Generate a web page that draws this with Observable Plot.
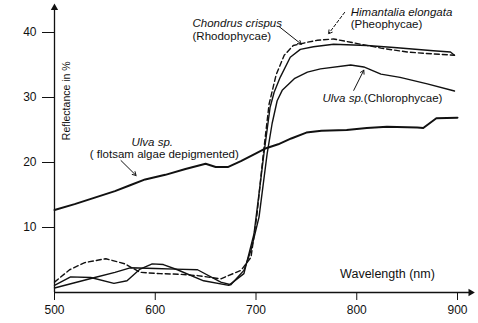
<!DOCTYPE html>
<html><head><meta charset="utf-8">
<script src="https://cdn.jsdelivr.net/npm/d3@7"></script>
<script src="https://cdn.jsdelivr.net/npm/@observablehq/plot@0.6"></script>
<style>body{margin:0;background:#fff}</style>
</head><body><div id="chart"></div>
<script>
const xTicks = [500, 600, 700, 800, 900];
const yTicks = [10, 20, 30, 40];

const flotsamW = [500,520,540,560,575,590,610,630,650,660,672,685,700,710,722,735,750,765,790,810,830,860,866,879,900];
const flotsamR = [12.7,13.6,14.6,15.6,16.5,17.4,18.1,19.0,19.8,19.3,19.3,20.2,21.4,22.2,22.8,23.7,24.6,24.9,25.0,25.3,25.5,25.4,25.3,26.8,26.9];

const chondrusW = [500,516,536,559,572,585,597,608,622,648,673,688,698,703,708,714,718,724,734,744,757,777,810,837,876,893,897];
const chondrusR = [1.1,2.4,2.3,1.4,1.8,3.6,4.4,4.3,3.5,1.8,1.1,2.9,9.0,15.2,21.5,28.5,30.8,33.1,36.2,37.4,37.8,38.2,38.0,37.7,37.2,37.0,36.5];

const ulvaW = [500,520,540,560,575,600,620,642,665,675,688,695,703,711,716,721,726,738,751,764,794,807,824,843,870,897];
const ulvaR = [0.7,1.5,2.3,3.1,3.8,3.7,3.6,3.5,1.6,1.2,3.4,6.5,11.6,21.3,26.0,29.5,31.1,32.9,33.9,34.4,35.0,34.7,33.6,33.1,32.1,31.0];

const himantaliaW = [500,515,530,551,570,585,605,625,642,665,685,695,701,707,713,720,728,737,751,761,777,794,824,850,876,897];
const himantaliaR = [1.6,3.5,4.6,5.2,4.4,3.1,2.9,2.8,2.6,2.1,3.4,5.4,12.0,21.0,29.0,33.5,36.5,38.0,38.5,38.8,39.0,38.5,37.6,37.0,36.7,36.5];

// annotation labels (position in data units: wavelength, reflectance)
const labelText  = ["Chondrus crispus", "(Rhodophycae)", "Himantalia elongata", "(Pheophycae)", "Ulva sp.", "(Chlorophycae)", "Ulva sp.", "( flotsam algae depigmented)"];
const labelW     = [637, 637, 794, 794, 766, 807, 597, 609];
const labelR     = [41.4, 39.4, 43.1, 41.2, 29.8, 29.8, 23.1, 21.2];
const labelItal  = [true, false, true, false, true, false, true, false];
const labelAnchor= ["start","start","start","start","start","start","middle","middle"];

const arrowW1 = [723, 566, 797];
const arrowR1 = [40.9, 20.3, 31.1];
const arrowW2 = [745, 581, 807];
const arrowR2 = [38.2, 18.0, 34.2];
const dashArrowW = [788, 772];
const dashArrowR = [43.1, 39.8];

const toRows = (name, ws, rs) => ws.map((w, i) => ({name, w, r: rs[i]}));
const solid = [
  ...toRows("Chondrus crispus", chondrusW, chondrusR),
  ...toRows("Ulva sp. (Chlorophycae)", ulvaW, ulvaR)
];
const flotsam = toRows("Ulva sp. flotsam", flotsamW, flotsamR);
const dashed = toRows("Himantalia elongata", himantaliaW, himantaliaR);
const labels = labelText.map((t, i) => ({t, w: labelW[i], r: labelR[i], it: labelItal[i], a: labelAnchor[i]}));
const arrows = arrowW1.map((w, i) => ({x1: w, y1: arrowR1[i], x2: arrowW2[i], y2: arrowR2[i]}));
const dashArrow = [{x1: dashArrowW[0], y1: dashArrowR[0], x2: dashArrowW[1], y2: dashArrowR[1]}];

const font = "Arial, 'Liberation Sans', Helvetica, sans-serif";
const ink = "#111";

const chart = Plot.plot({
  width: 478, height: 323,
  marginLeft: 54, marginRight: 21, marginTop: 32, marginBottom: 31,
  x: {domain: [500, 900]},
  y: {domain: [0, 40]},
  style: {fontFamily: font, fontSize: "12px", color: ink, background: "#fff"},
  marks: [
    Plot.axisX({ticks: xTicks, tickSize: 8, tickPadding: 5, label: null, fontSize: 12, stroke: ink}),
    Plot.axisY({ticks: yTicks, tickSize: 12, tickPadding: 6, label: null, fontSize: 12, stroke: ink}),
    Plot.ruleY([0], {x1: 500, x2: 912, stroke: ink, strokeWidth: 1.3}),
    Plot.ruleX([500], {y1: 0, y2: 43.4, stroke: ink, strokeWidth: 1.3}),
    Plot.dot([{x: 913, y: 0}], {x: "x", y: "y", symbol: "triangle2", r: 3.5, fill: ink, rotate: 90}),
    Plot.dot([{x: 500, y: 43.8}], {x: "x", y: "y", symbol: "triangle2", r: 3.5, fill: ink}),
    Plot.line(flotsam, {x: "w", y: "r", stroke: ink, strokeWidth: 2}),
    Plot.line(solid, {x: "w", y: "r", z: "name", stroke: ink, strokeWidth: 1.4}),
    Plot.line(dashed, {x: "w", y: "r", stroke: ink, strokeWidth: 1.4, strokeDasharray: "5,3"}),
    Plot.arrow(arrows, {x1: "x1", y1: "y1", x2: "x2", y2: "y2", stroke: ink, strokeWidth: 1, headLength: 6}),
    Plot.arrow(dashArrow, {x1: "x1", y1: "y1", x2: "x2", y2: "y2", stroke: ink, strokeWidth: 1, headLength: 6, strokeDasharray: "3,2"}),
    Plot.text(labels.filter(d => d.it && d.a === "start"), {x: "w", y: "r", text: "t", textAnchor: "start", fontStyle: "italic", fontSize: 11.5, fill: ink}),
    Plot.text(labels.filter(d => !d.it && d.a === "start"), {x: "w", y: "r", text: "t", textAnchor: "start", fontSize: 11.5, fill: ink}),
    Plot.text(labels.filter(d => d.it && d.a === "middle"), {x: "w", y: "r", text: "t", textAnchor: "middle", fontStyle: "italic", fontSize: 11.5, fill: ink}),
    Plot.text(labels.filter(d => !d.it && d.a === "middle"), {x: "w", y: "r", text: "t", textAnchor: "middle", fontSize: 11.5, fill: ink}),
    Plot.text(["Wavelength (nm)"], {x: 830.5, y: 2.8, text: d => d, fontSize: 12.5, fill: ink}),
    Plot.text(["Reflectance in %"], {x: 512, y: 29.5, text: d => d, rotate: -90, fontSize: 10.5, fill: ink})
  ]
});
document.getElementById("chart").appendChild(chart);
</script>
</body></html>
